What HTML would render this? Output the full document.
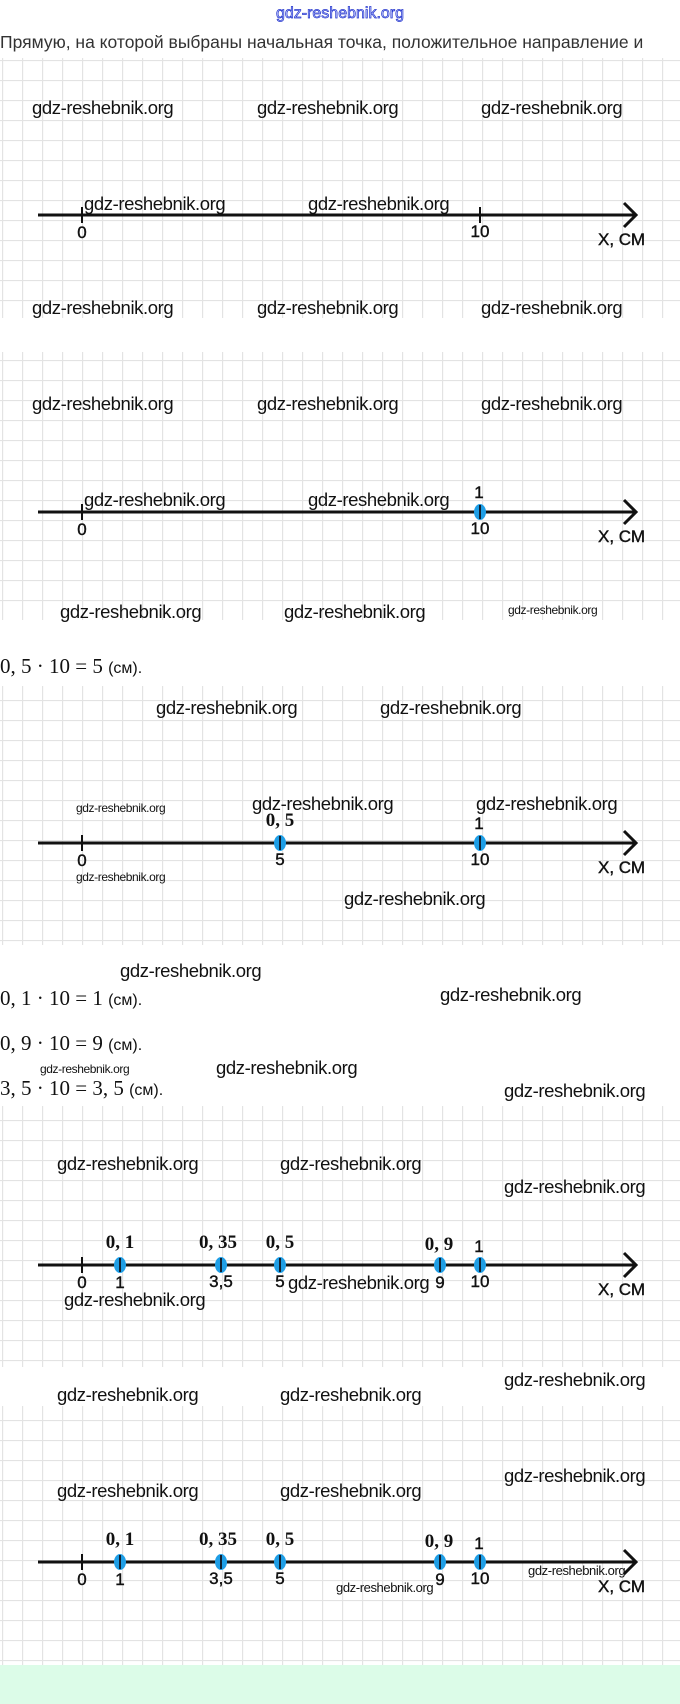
<!DOCTYPE html>
<html><head><meta charset="utf-8"><style>
html,body{margin:0;padding:0;background:#fff;width:680px;height:1704px;overflow:hidden}
svg{display:block}
.w{font-family:"Liberation Sans",sans-serif;font-size:18.5px;fill:#111;letter-spacing:-0.4px}
.s{font-family:"Liberation Sans",sans-serif;font-size:12px;fill:#111;letter-spacing:-0.4px}
.t{font-family:"Liberation Sans",sans-serif;font-size:17px;fill:#111;stroke:#111;stroke-width:0.4}
.m{font-family:"Liberation Serif",serif;font-size:21px;fill:#111}
.mb{font-family:"Liberation Serif",serif;font-size:19px;font-weight:bold;fill:#111}
</style></head><body>
<svg width="680" height="1704" viewBox="0 0 680 1704" xmlns="http://www.w3.org/2000/svg">
<defs>
<pattern id="g" x="2" y="0" width="20" height="20" patternUnits="userSpaceOnUse">
<rect width="20" height="20" fill="#fff"/>
<path d="M0 0.5H20M0.5 0V20" stroke="#e3e3e3" stroke-width="1.3" fill="none"/>
</pattern>
<g id="dot"><ellipse cx="0" cy="0" rx="6" ry="8" fill="#1e9ee6"/><line x1="0" y1="-7" x2="0" y2="7" stroke="#123" stroke-width="2"/></g>
</defs>
<rect x="0" y="58" width="680" height="260" fill="url(#g)"/>
<rect x="0" y="352" width="680" height="268" fill="url(#g)"/>
<rect x="0" y="686" width="680" height="259" fill="url(#g)"/>
<rect x="0" y="1106" width="680" height="261" fill="url(#g)"/>
<rect x="0" y="1406" width="680" height="259" fill="url(#g)"/>
<rect x="0" y="1665" width="680" height="39" fill="#dcfce8"/>

<text x="340" y="18" text-anchor="middle" font-family="Liberation Sans,sans-serif" font-size="16" fill="#c8d0ff" stroke="#2233cc" stroke-width="0.7">gdz-reshebnik.org</text>
<text x="0" y="48" font-family="Liberation Sans,sans-serif" font-size="17.5" fill="#333">Прямую, на которой выбраны начальная точка, положительное направление и</text>

<g stroke="#111" stroke-width="3" fill="none">
<line x1="38" y1="215" x2="636" y2="215"/><path d="M624 203L636 215L624 227"/>
<line x1="82" y1="207" x2="82" y2="223" stroke-width="2"/><line x1="480" y1="207" x2="480" y2="223" stroke-width="2"/>
<line x1="38" y1="512" x2="636" y2="512"/><path d="M624 500L636 512L624 524"/>
<line x1="82" y1="504" x2="82" y2="520" stroke-width="2"/>
<line x1="38" y1="843" x2="636" y2="843"/><path d="M624 831L636 843L624 855"/>
<line x1="82" y1="835" x2="82" y2="851" stroke-width="2"/>
<line x1="38" y1="1265" x2="636" y2="1265"/><path d="M624 1253L636 1265L624 1277"/>
<line x1="82" y1="1257" x2="82" y2="1273" stroke-width="2"/>
<line x1="38" y1="1562" x2="636" y2="1562"/><path d="M624 1550L636 1562L624 1574"/>
<line x1="82" y1="1554" x2="82" y2="1570" stroke-width="2"/>
</g>
<g class="t">
<text x="82" y="238" text-anchor="middle">0</text><text x="480" y="237" text-anchor="middle">10</text><text x="598" y="245">X, СМ</text>
<text x="82" y="535" text-anchor="middle">0</text><text x="480" y="534" text-anchor="middle">10</text><text x="598" y="542">X, СМ</text><text x="479" y="498" text-anchor="middle">1</text>
<text x="82" y="866" text-anchor="middle">0</text><text x="280" y="865" text-anchor="middle">5</text><text x="480" y="865" text-anchor="middle">10</text><text x="598" y="873">X, СМ</text><text x="479" y="829" text-anchor="middle">1</text>
<text x="82" y="1288" text-anchor="middle">0</text><text x="120" y="1288" text-anchor="middle">1</text><text x="221" y="1287" text-anchor="middle">3,5</text><text x="280" y="1287" text-anchor="middle">5</text><text x="440" y="1288" text-anchor="middle">9</text><text x="480" y="1287" text-anchor="middle">10</text><text x="598" y="1295">X, СМ</text><text x="479" y="1252" text-anchor="middle">1</text>
<text x="82" y="1585" text-anchor="middle">0</text><text x="120" y="1585" text-anchor="middle">1</text><text x="221" y="1584" text-anchor="middle">3,5</text><text x="280" y="1584" text-anchor="middle">5</text><text x="440" y="1585" text-anchor="middle">9</text><text x="480" y="1584" text-anchor="middle">10</text><text x="598" y="1592">X, СМ</text><text x="479" y="1549" text-anchor="middle">1</text>
</g>
<g class="mb">
<text x="280" y="826" text-anchor="middle">0, 5</text>
<text x="120" y="1248" text-anchor="middle">0, 1</text><text x="218" y="1248" text-anchor="middle">0, 35</text><text x="280" y="1248" text-anchor="middle">0, 5</text><text x="439" y="1250" text-anchor="middle">0, 9</text>
<text x="120" y="1545" text-anchor="middle">0, 1</text><text x="218" y="1545" text-anchor="middle">0, 35</text><text x="280" y="1545" text-anchor="middle">0, 5</text><text x="439" y="1547" text-anchor="middle">0, 9</text>
</g>
<use href="#dot" x="480" y="512"/>
<use href="#dot" x="280" y="843"/><use href="#dot" x="480" y="843"/>
<use href="#dot" x="120" y="1265"/><use href="#dot" x="221" y="1265"/><use href="#dot" x="280" y="1265"/><use href="#dot" x="440" y="1265"/><use href="#dot" x="480" y="1265"/>
<use href="#dot" x="120" y="1562"/><use href="#dot" x="221" y="1562"/><use href="#dot" x="280" y="1562"/><use href="#dot" x="440" y="1562"/><use href="#dot" x="480" y="1562"/>

<g class="m">
<text x="0" y="673">0, 5 · 10 = 5 <tspan font-family="Liberation Sans,sans-serif" font-size="16">(см).</tspan></text>
<text x="0" y="1005">0, 1 · 10 = 1 <tspan font-family="Liberation Sans,sans-serif" font-size="16">(см).</tspan></text>
<text x="0" y="1050">0, 9 · 10 = 9 <tspan font-family="Liberation Sans,sans-serif" font-size="16">(см).</tspan></text>
<text x="0" y="1095">3, 5 · 10 = 3, 5 <tspan font-family="Liberation Sans,sans-serif" font-size="16">(см).</tspan></text>
</g>

<g class="w">
<text x="32" y="114">gdz-reshebnik.org</text><text x="257" y="114">gdz-reshebnik.org</text><text x="481" y="114">gdz-reshebnik.org</text>
<text x="84" y="210">gdz-reshebnik.org</text><text x="308" y="210">gdz-reshebnik.org</text>
<text x="32" y="314">gdz-reshebnik.org</text><text x="257" y="314">gdz-reshebnik.org</text><text x="481" y="314">gdz-reshebnik.org</text>
<text x="32" y="410">gdz-reshebnik.org</text><text x="257" y="410">gdz-reshebnik.org</text><text x="481" y="410">gdz-reshebnik.org</text>
<text x="84" y="506">gdz-reshebnik.org</text><text x="308" y="506">gdz-reshebnik.org</text>
<text x="60" y="618">gdz-reshebnik.org</text><text x="284" y="618">gdz-reshebnik.org</text>
<text x="156" y="714">gdz-reshebnik.org</text><text x="380" y="714">gdz-reshebnik.org</text>
<text x="252" y="810">gdz-reshebnik.org</text><text x="476" y="810">gdz-reshebnik.org</text>
<text x="344" y="905">gdz-reshebnik.org</text>
<text x="120" y="977">gdz-reshebnik.org</text><text x="440" y="1001">gdz-reshebnik.org</text>
<text x="216" y="1074">gdz-reshebnik.org</text><text x="504" y="1097">gdz-reshebnik.org</text>
<text x="57" y="1170">gdz-reshebnik.org</text><text x="280" y="1170">gdz-reshebnik.org</text><text x="504" y="1193">gdz-reshebnik.org</text>
<text x="288" y="1289">gdz-reshebnik.org</text><text x="64" y="1306">gdz-reshebnik.org</text>
<text x="504" y="1386">gdz-reshebnik.org</text>
<text x="57" y="1401">gdz-reshebnik.org</text><text x="280" y="1401">gdz-reshebnik.org</text>
<text x="504" y="1482">gdz-reshebnik.org</text>
<text x="57" y="1497">gdz-reshebnik.org</text><text x="280" y="1497">gdz-reshebnik.org</text>
</g>
<g class="s">
<text x="508" y="614">gdz-reshebnik.org</text>
<text x="76" y="812">gdz-reshebnik.org</text><text x="76" y="881">gdz-reshebnik.org</text>
<text x="40" y="1073">gdz-reshebnik.org</text>
<text x="528" y="1575" font-size="13">gdz-reshebnik.org</text><text x="336" y="1592" font-size="13">gdz-reshebnik.org</text>
</g>
</svg>
</body></html>
